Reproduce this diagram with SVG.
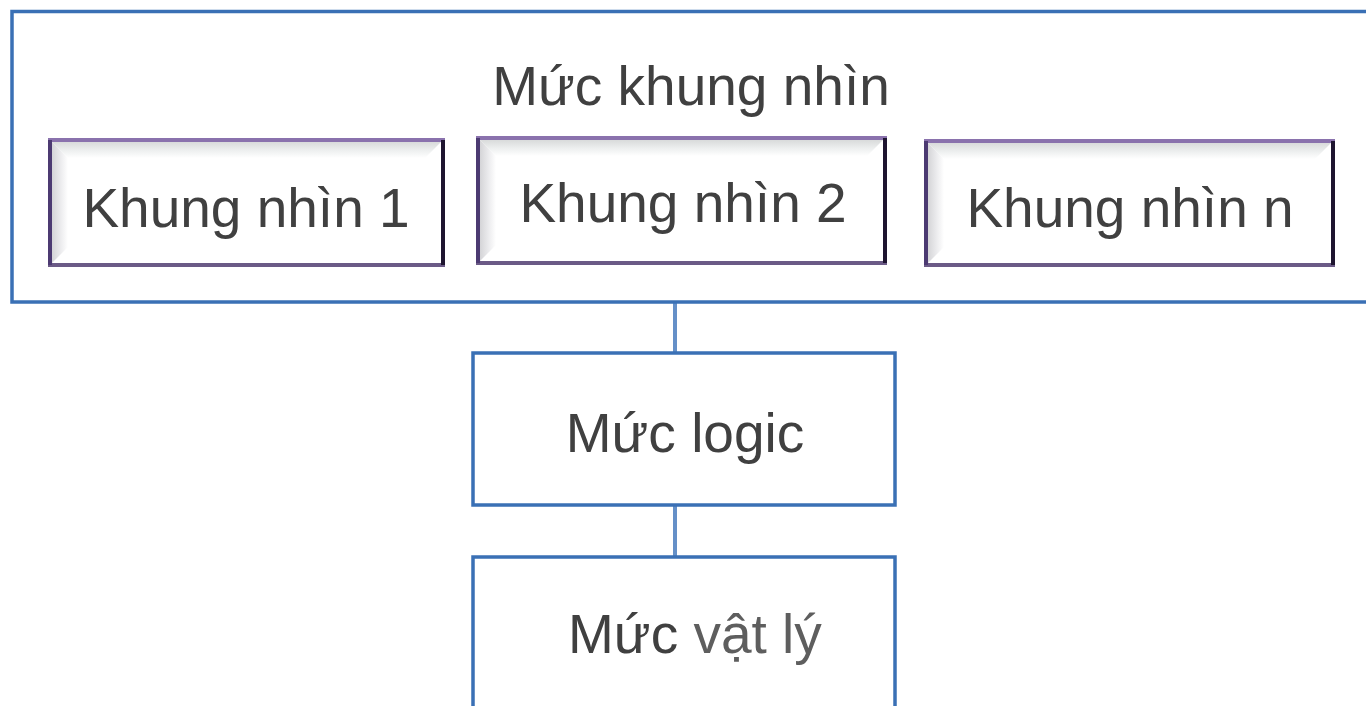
<svg xmlns="http://www.w3.org/2000/svg" width="1366" height="706" viewBox="0 0 1366 706">
  <defs>
    <linearGradient id="bevelTop" x1="0" y1="0" x2="0" y2="1">
      <stop offset="0" stop-color="#d4d6d6"/>
      <stop offset="0.6" stop-color="#eef0f0"/>
      <stop offset="1" stop-color="#ffffff"/>
    </linearGradient>
    <linearGradient id="bevelLeft" x1="0" y1="0" x2="1" y2="0">
      <stop offset="0" stop-color="#cfcfd2"/>
      <stop offset="0.6" stop-color="#ececee"/>
      <stop offset="1" stop-color="#ffffff"/>
    </linearGradient>
    <style>
      .lbl { font-family: "Liberation Sans", Arial, sans-serif; font-size: 55px; fill: #404040; }
      .frame { fill: #ffffff; stroke: #3a70b5; stroke-width: 3.5; }
      .link { stroke: #6590c8; stroke-width: 4; fill: none; }
      .b-top { stroke: #8a72ad; stroke-width: 4; }
      .b-left { stroke: #4c3a72; stroke-width: 4; }
      .b-bottom { stroke: #6b5a86; stroke-width: 4; }
      .b-right { stroke: #1e1530; stroke-width: 4; }
      .bt { fill: url(#bevelTop); }
      .bl { fill: url(#bevelLeft); }
    </style>
  </defs>

  <rect width="1366" height="706" fill="#ffffff"/>

  <!-- connectors between levels -->
  <g id="connectors">
    <line class="link" x1="675" y1="303" x2="675" y2="353"/>
    <line class="link" x1="675" y1="505" x2="675" y2="557"/>
  </g>

  <!-- view level container -->
  <g id="view-level">
    <rect class="frame" x="12" y="11.5" width="1370" height="290.5"/>
    <text class="lbl" x="691" y="105" text-anchor="middle">Mức khung nhìn</text>
  </g>

  <!-- view 1 -->
  <g id="view-1">
    <rect x="50" y="140" width="393" height="125" fill="#ffffff"/>
    <polygon class="bt" points="50,140 443,140 425,158 68,158"/>
    <polygon class="bl" points="50,140 68,158 68,247 50,265"/>
    <line class="b-top" x1="48" y1="140" x2="445" y2="140"/>
    <line class="b-bottom" x1="48" y1="265" x2="445" y2="265"/>
    <line class="b-left" x1="50" y1="140" x2="50" y2="265"/>
    <line class="b-right" x1="443" y1="140" x2="443" y2="265"/>
    <text class="lbl" x="246" y="227" text-anchor="middle">Khung nhìn 1</text>
  </g>

  <!-- view 2 -->
  <g id="view-2">
    <rect x="478" y="138" width="407" height="125" fill="#ffffff"/>
    <polygon class="bt" points="478,138 885,138 867,156 496,156"/>
    <polygon class="bl" points="478,138 496,156 496,245 478,263"/>
    <line class="b-top" x1="476" y1="138" x2="887" y2="138"/>
    <line class="b-bottom" x1="476" y1="263" x2="887" y2="263"/>
    <line class="b-left" x1="478" y1="138" x2="478" y2="263"/>
    <line class="b-right" x1="885" y1="138" x2="885" y2="263"/>
    <text class="lbl" x="683" y="222" text-anchor="middle">Khung nhìn 2</text>
  </g>

  <!-- view n -->
  <g id="view-n">
    <rect x="926" y="141" width="407" height="124" fill="#ffffff"/>
    <polygon class="bt" points="926,141 1333,141 1315,159 944,159"/>
    <polygon class="bl" points="926,141 944,159 944,247 926,265"/>
    <line class="b-top" x1="924" y1="141" x2="1335" y2="141"/>
    <line class="b-bottom" x1="924" y1="265" x2="1335" y2="265"/>
    <line class="b-left" x1="926" y1="141" x2="926" y2="265"/>
    <line class="b-right" x1="1333" y1="141" x2="1333" y2="265"/>
    <text class="lbl" x="1130" y="227" text-anchor="middle">Khung nhìn n</text>
  </g>

  <!-- logical level -->
  <g id="logic-level">
    <rect class="frame" x="473" y="353" width="422" height="152"/>
    <text class="lbl" x="685" y="452" text-anchor="middle">Mức logic</text>
  </g>

  <!-- physical level -->
  <g id="physical-level">
    <rect class="frame" x="473" y="557" width="422" height="170"/>
    <text class="lbl" x="568" y="653">Mức <tspan fill="#5e5e5e">vật lý</tspan></text>
  </g>
</svg>
